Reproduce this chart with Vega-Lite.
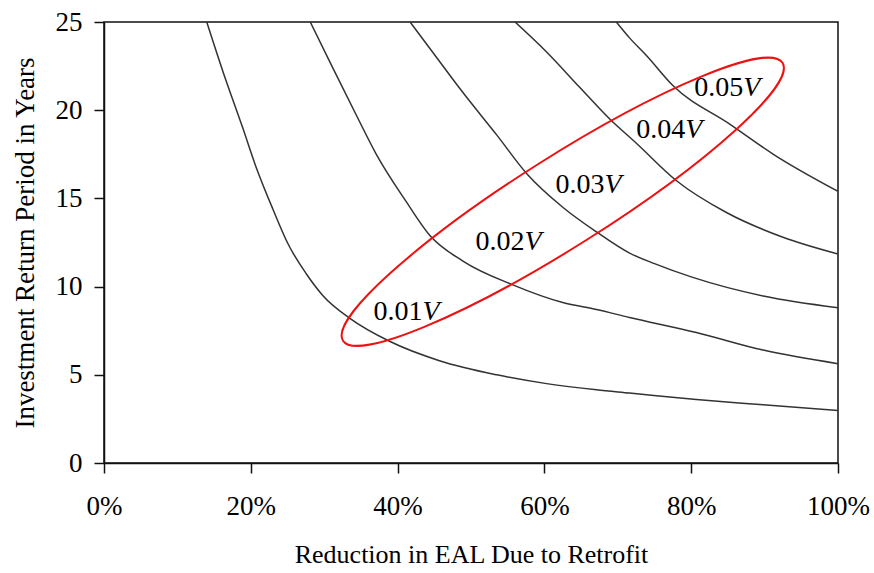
{
  "$schema": "https://vega.github.io/schema/vega-lite/v6.json",
  "autosize": "none",
  "width": 734,
  "height": 441,
  "padding": {"left": 104, "top": 22, "right": 36, "bottom": 110},
  "background": "white",
  "datasets": {
    "curves": [
      {"curve": "0.01", "x": 0.140, "y": 25.0},
      {"curve": "0.01", "x": 0.162, "y": 22.2},
      {"curve": "0.01", "x": 0.189, "y": 19.0},
      {"curve": "0.01", "x": 0.207, "y": 16.8},
      {"curve": "0.01", "x": 0.230, "y": 14.4},
      {"curve": "0.01", "x": 0.251, "y": 12.4},
      {"curve": "0.01", "x": 0.276, "y": 10.7},
      {"curve": "0.01", "x": 0.298, "y": 9.5},
      {"curve": "0.01", "x": 0.335, "y": 8.2},
      {"curve": "0.01", "x": 0.389, "y": 6.9},
      {"curve": "0.01", "x": 0.457, "y": 5.8},
      {"curve": "0.01", "x": 0.535, "y": 5.0},
      {"curve": "0.01", "x": 0.603, "y": 4.5},
      {"curve": "0.01", "x": 0.671, "y": 4.15},
      {"curve": "0.01", "x": 0.716, "y": 3.97},
      {"curve": "0.01", "x": 0.807, "y": 3.6},
      {"curve": "0.01", "x": 0.898, "y": 3.3},
      {"curve": "0.01", "x": 1.0, "y": 2.97},
      {"curve": "0.02", "x": 0.281, "y": 25.0},
      {"curve": "0.02", "x": 0.307, "y": 22.8},
      {"curve": "0.02", "x": 0.344, "y": 19.7},
      {"curve": "0.02", "x": 0.371, "y": 17.5},
      {"curve": "0.02", "x": 0.412, "y": 14.8},
      {"curve": "0.02", "x": 0.444, "y": 12.9},
      {"curve": "0.02", "x": 0.489, "y": 11.45},
      {"curve": "0.02", "x": 0.557, "y": 10.1},
      {"curve": "0.02", "x": 0.625, "y": 9.1},
      {"curve": "0.02", "x": 0.671, "y": 8.7},
      {"curve": "0.02", "x": 0.716, "y": 8.25},
      {"curve": "0.02", "x": 0.807, "y": 7.4},
      {"curve": "0.02", "x": 0.898, "y": 6.4},
      {"curve": "0.02", "x": 1.0, "y": 5.63},
      {"curve": "0.03", "x": 0.417, "y": 25.0},
      {"curve": "0.03", "x": 0.444, "y": 23.5},
      {"curve": "0.03", "x": 0.489, "y": 21.0},
      {"curve": "0.03", "x": 0.535, "y": 18.6},
      {"curve": "0.03", "x": 0.576, "y": 16.4},
      {"curve": "0.03", "x": 0.625, "y": 14.5},
      {"curve": "0.03", "x": 0.671, "y": 13.1},
      {"curve": "0.03", "x": 0.716, "y": 11.9},
      {"curve": "0.03", "x": 0.750, "y": 11.3},
      {"curve": "0.03", "x": 0.800, "y": 10.55},
      {"curve": "0.03", "x": 0.900, "y": 9.45},
      {"curve": "0.03", "x": 1.0, "y": 8.8},
      {"curve": "0.04", "x": 0.560, "y": 25.0},
      {"curve": "0.04", "x": 0.603, "y": 23.3},
      {"curve": "0.04", "x": 0.648, "y": 21.3},
      {"curve": "0.04", "x": 0.689, "y": 19.5},
      {"curve": "0.04", "x": 0.726, "y": 18.1},
      {"curve": "0.04", "x": 0.780, "y": 16.0},
      {"curve": "0.04", "x": 0.848, "y": 14.2},
      {"curve": "0.04", "x": 0.925, "y": 12.8},
      {"curve": "0.04", "x": 1.0, "y": 11.85},
      {"curve": "0.05", "x": 0.698, "y": 25.0},
      {"curve": "0.05", "x": 0.716, "y": 24.1},
      {"curve": "0.05", "x": 0.739, "y": 23.1},
      {"curve": "0.05", "x": 0.775, "y": 21.4},
      {"curve": "0.05", "x": 0.853, "y": 19.2},
      {"curve": "0.05", "x": 0.912, "y": 17.5},
      {"curve": "0.05", "x": 1.0, "y": 15.4}
    ],
    "labels": [
      {"coef": "0.01", "x": 0.434, "y": 8.56},
      {"coef": "0.02", "x": 0.573, "y": 12.53},
      {"coef": "0.03", "x": 0.682, "y": 15.76},
      {"coef": "0.04", "x": 0.792, "y": 18.85},
      {"coef": "0.05", "x": 0.871, "y": 21.25}
    ],
    "highlight": [
      {"x": 0.625, "y": 14.81}
    ]
  },
  "encoding": {
    "x": {
      "field": "x",
      "type": "quantitative",
      "scale": {"domain": [0, 1], "nice": false, "zero": false},
      "axis": {
        "title": "Reduction in EAL Due to Retrofit",
        "values": [0, 0.2, 0.4, 0.6, 0.8, 1.0],
        "format": ".0%",
        "labelPadding": 20,
        "titlePadding": 22,
        "titleFontSize": 26
      }
    },
    "y": {
      "field": "y",
      "type": "quantitative",
      "scale": {"domain": [0, 25], "nice": false},
      "axis": {
        "title": "Investment Return Period in Years",
        "values": [0, 5, 10, 15, 20, 25],
        "labelPadding": 12,
        "titlePadding": 16,
        "titleFontSize": 27
      }
    }
  },
  "layer": [
    {
      "data": {"name": "curves"},
      "mark": {"type": "line", "color": "#333333", "strokeWidth": 1.5, "interpolate": "monotone", "clip": true},
      "encoding": {"detail": {"field": "curve"}}
    },
    {
      "data": {"name": "labels"},
      "mark": {
        "type": "text",
        "align": "right",
        "baseline": "middle",
        "font": "Liberation Serif",
        "fontSize": 28,
        "color": "black"
      },
      "encoding": {"text": {"field": "coef"}}
    },
    {
      "data": {"name": "labels"},
      "mark": {
        "type": "text",
        "align": "left",
        "baseline": "middle",
        "font": "Liberation Serif",
        "fontSize": 28,
        "fontStyle": "italic",
        "color": "black",
        "text": "V"
      },
      "encoding": {}
    },
    {
      "data": {"name": "highlight"},
      "mark": {
        "type": "point",
        "shape": "M -1 0 A 1 0.173 0 1 0 1 0 A 1 0.173 0 1 0 -1 0 Z",
        "size": 270400,
        "angle": 327.7,
        "filled": false,
        "color": "#ee1111",
        "strokeWidth": 2,
        "opacity": 1
      },
      "encoding": {}
    }
  ],
  "config": {
    "view": {"stroke": "#111111", "strokeWidth": 1.5},
    "font": "Liberation Serif",
    "axis": {
      "grid": false,
      "domainColor": "#111111",
      "domainWidth": 1.5,
      "tickColor": "#111111",
      "tickWidth": 1.5,
      "tickSize": 10,
      "labelFont": "Liberation Serif",
      "labelFontSize": 27,
      "labelColor": "black",
      "labelFlush": false,
      "labelOverlap": false,
      "titleFont": "Liberation Serif",
      "titleFontWeight": "normal",
      "titleColor": "black"
    }
  }
}
